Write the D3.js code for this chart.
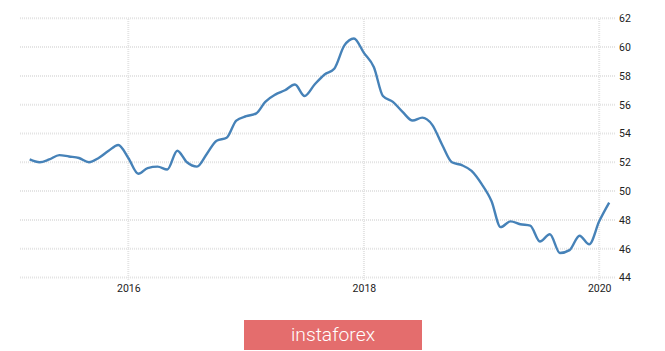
<!DOCTYPE html>
<html>
<head>
<meta charset="utf-8">
<script src="https://cdn.jsdelivr.net/npm/d3@7"></script>
<style>
  body { margin: 0; background: #fff; }
  .tick text { font-family: Roboto, "Liberation Sans", sans-serif; font-size: 10.5px; fill: #222; }
</style>
</head>
<body>
<div class="chart-container"></div>
<script>
// monthly readings, Mar 2015 - Feb 2020
const months = [
  "2015-03", "2015-04", "2015-05", "2015-06", "2015-07", "2015-08", "2015-09", "2015-10", "2015-11", "2015-12",
  "2016-01", "2016-02", "2016-03", "2016-04", "2016-05", "2016-06", "2016-07", "2016-08", "2016-09", "2016-10", "2016-11", "2016-12",
  "2017-01", "2017-02", "2017-03", "2017-04", "2017-05", "2017-06", "2017-07", "2017-08", "2017-09", "2017-10", "2017-11", "2017-12",
  "2018-01", "2018-02", "2018-03", "2018-04", "2018-05", "2018-06", "2018-07", "2018-08", "2018-09", "2018-10", "2018-11", "2018-12",
  "2019-01", "2019-02", "2019-03", "2019-04", "2019-05", "2019-06", "2019-07", "2019-08", "2019-09", "2019-10", "2019-11", "2019-12",
  "2020-01", "2020-02"
];
const values = [
  52.2, 52.0, 52.2, 52.5, 52.4, 52.3, 52.0, 52.3, 52.8, 53.2,
  52.3, 51.2, 51.6, 51.7, 51.5, 52.8, 52.0, 51.7, 52.6, 53.5, 53.7, 54.9,
  55.2, 55.4, 56.2, 56.7, 57.0, 57.4, 56.6, 57.4, 58.1, 58.5, 60.1, 60.6,
  59.6, 58.6, 56.6, 56.2, 55.5, 54.9, 55.1, 54.6, 53.2, 52.0, 51.8, 51.4,
  50.5, 49.3, 47.5, 47.9, 47.7, 47.6, 46.5, 47.0, 45.7, 45.9, 46.9, 46.3,
  47.9, 49.2
];
const yTicks = [44, 46, 48, 50, 52, 54, 56, 58, 60, 62];
const xTickYears = ["2016", "2018", "2020"];

const parseMonth = d3.timeParse("%Y-%m");
const parseYear = d3.timeParse("%Y");

const svg_width = 665;
const svg_height = 351;

const svg = d3.select(".chart-container").append("svg")
  .attr("width", svg_width).attr("height", svg_height);

// scales
const xScale = d3.scaleTime()
  .domain([parseYear("2016"), parseYear("2020")])
  .range([128.3, 599.2]);
const yScale = d3.scaleLinear().domain([44, 62]).range([277.5, 18.3]);

const gridLeft = 20, gridRight = 615;

// horizontal dotted grid
svg.append("g").selectAll("line")
  .data(yTicks).enter().append("line")
  .attr("x1", gridLeft).attr("x2", gridRight)
  .attr("y1", d => yScale(d)).attr("y2", d => yScale(d))
  .attr("stroke", "#e4e4e4").attr("stroke-width", 2)
  .attr("stroke-dasharray", "1,1");

// vertical dotted grid at years
const yearDates = xTickYears.map(parseYear);
svg.append("g").selectAll("line")
  .data(yearDates).enter().append("line")
  .attr("x1", d => xScale(d)).attr("x2", d => xScale(d))
  .attr("y1", 19).attr("y2", 281)
  .attr("stroke", "#e4e4e4").attr("stroke-width", 2)
  .attr("stroke-dasharray", "1,1");

// axes (labels only)
const yAxis = d3.axisRight(yScale).tickValues(yTicks).tickSize(0).tickPadding(4);
svg.append("g").attr("class", "y axis")
  .attr("transform", `translate(${gridRight},0)`)
  .call(yAxis)
  .call(g => g.select(".domain").remove());

const xAxis = d3.axisBottom(xScale).tickValues(yearDates)
  .tickFormat(d3.timeFormat("%Y")).tickSize(0).tickPadding(4);
svg.append("g").attr("class", "x axis")
  .attr("transform", "translate(0,281)")
  .call(xAxis)
  .call(g => g.select(".domain").remove());

// the line
const data = months.map((m, i) => ({ date: parseMonth(m), value: values[i] }));
const line = d3.line()
  .x(d => xScale(d.date))
  .y(d => yScale(d.value))
  .curve(d3.curveMonotoneX);

svg.append("path").datum(data)
  .attr("d", line)
  .attr("fill", "none")
  .attr("stroke", "#4682b8")
  .attr("stroke-width", 2.4)
  .attr("stroke-linejoin", "round");

// watermark badge
const badge = svg.append("g").attr("transform", "translate(244,320)");
badge.append("rect")
  .attr("width", 178).attr("height", 30)
  .attr("fill", "#e46d6d");
badge.append("text")
  .attr("x", 89).attr("y", 21)
  .attr("text-anchor", "middle")
  .attr("fill", "#fff")
  .attr("font-family", "Roboto, sans-serif")
  .attr("font-weight", 300)
  .attr("font-size", "18px")
  .attr("textLength", 84)
  .attr("lengthAdjust", "spacingAndGlyphs")
  .text("instaforex");
</script>
</body>
</html>
